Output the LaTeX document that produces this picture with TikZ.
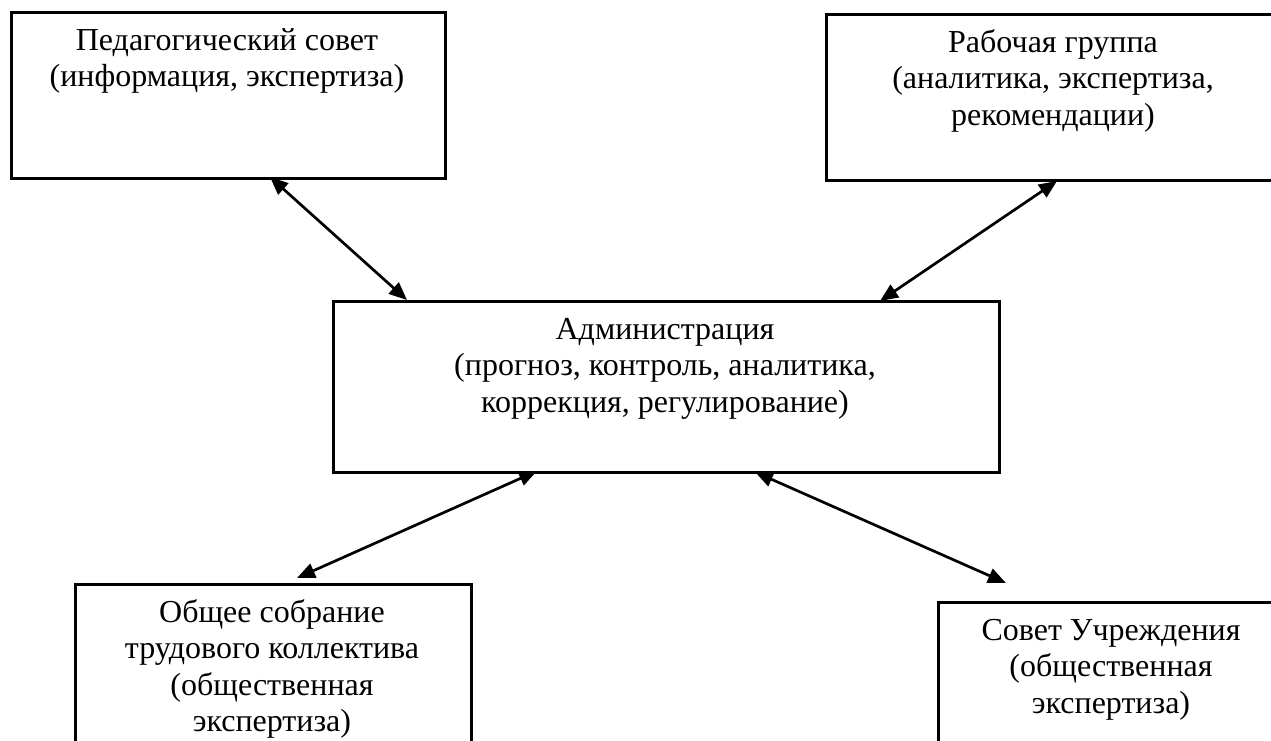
\documentclass[tikz,border=0pt]{standalone}
\usepackage{fontspec}
\setmainfont{Liberation Serif}
\usetikzlibrary{positioning, arrows.meta}

\begin{document}
\begin{tikzpicture}[x=1pt, y=-1pt,
    block/.style={draw, line width=2.7pt, inner sep=0pt, anchor=north west},
    blocktext/.style={anchor=base, align=center, inner sep=0pt, font=\fontsize{32}{36.5}\selectfont},
    link/.style={{Triangle[length=18pt,width=15pt]}-{Triangle[length=18pt,width=15pt]}, line width=2.7pt}]
    \useasboundingbox (0,0) rectangle (1271,740);

    % boxes
    \node (ped) [block, minimum width=434pt, minimum height=166pt] at (10,11) {};
    \node (rab) [block, minimum width=456pt, minimum height=166pt] at (825,13) {};
    \node (adm) [block, minimum width=666pt, minimum height=171pt] at (332,300) {};
    \node (obsh) [block, minimum width=396pt, minimum height=200pt] at (74,583) {};
    \node (sov) [block, minimum width=348pt, minimum height=200pt] at (937,601) {};

    % texts (placed by the baseline of their last line)
    \node (pedT) [blocktext] at (227,86.5) {Педагогический совет\\(информация, экспертиза)};
    \node (rabT) [blocktext] at (1053,125) {Рабочая группа\\(аналитика, экспертиза,\\рекомендации)};
    \node (admT) [blocktext] at (665,412) {Администрация\\(прогноз, контроль, аналитика,\\коррекция, регулирование)};
    \node (obshT) [blocktext] at (272,731.5) {Общее собрание\\трудового коллектива\\(общественная\\экспертиза)};
    \node (sovT) [blocktext] at (1111,713) {Совет Учреждения\\(общественная\\экспертиза)};

    % arrow ends
    \coordinate (pedA) at (270,177);
    \coordinate (admA) at (407,300);
    \coordinate (rabA) at (1057,181);
    \coordinate (admB) at (880,301);
    \coordinate (admC) at (537,471);
    \coordinate (obshA) at (297,578);
    \coordinate (admD) at (755,472);
    \coordinate (sovA) at (1006,583);

    \draw[link] (pedA) -- (admA);
    \draw[link] (rabA) -- (admB);
    \draw[link] (admC) -- (obshA);
    \draw[link] (admD) -- (sovA);
\end{tikzpicture}
\end{document}
